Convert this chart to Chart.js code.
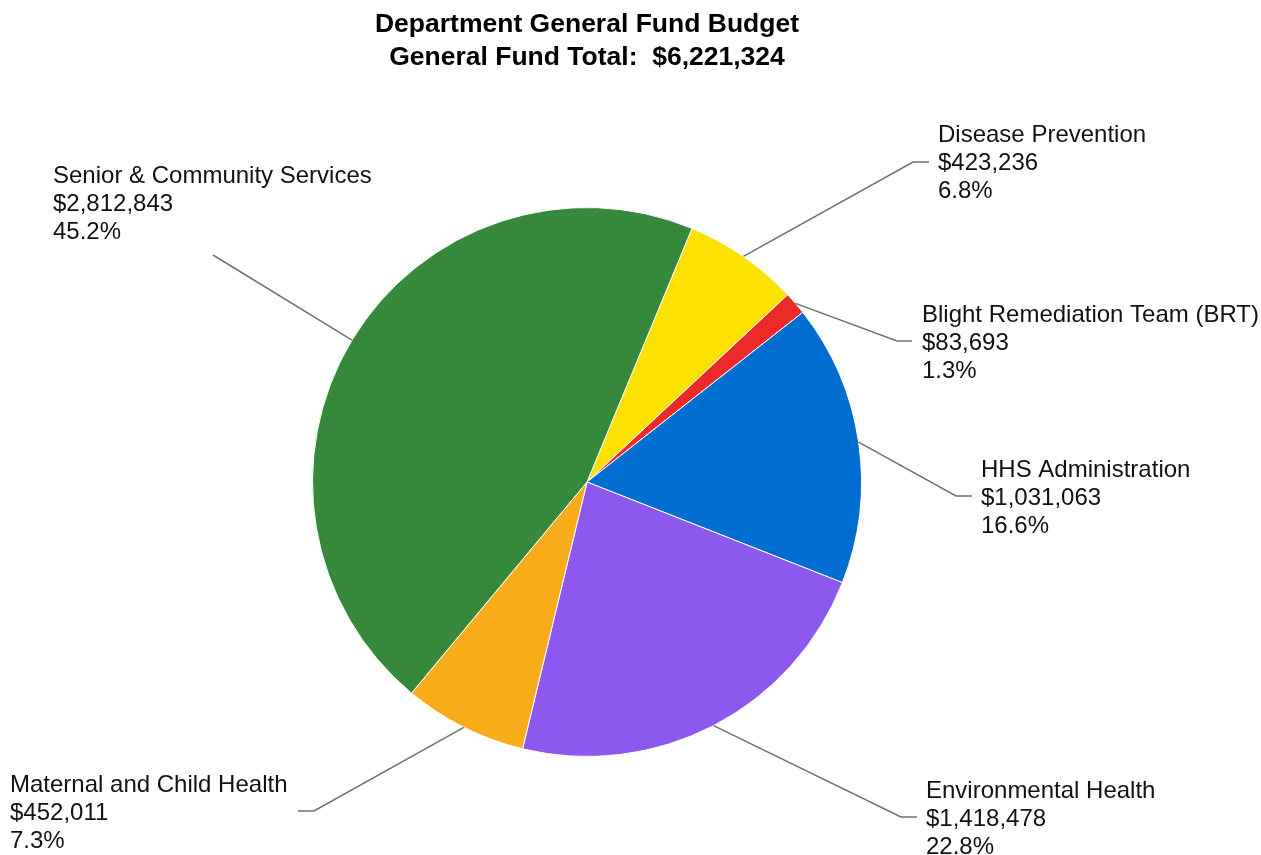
<!DOCTYPE html>
<html>
<head>
<meta charset="utf-8">
<script src="https://cdn.jsdelivr.net/npm/chart.js@4"></script>
<style>
html,body{margin:0;padding:0;background:#fff;}
#wrap{width:1261px;height:855px;position:relative;}
</style>
</head>
<body>
<div id="wrap"><canvas id="c" width="1261" height="855"></canvas></div>
<script>
// ---- data ----
const titleLines = ["Department General Fund Budget", "General Fund Total:  $6,221,324"];
const categories = ["Disease Prevention", "Blight Remediation Team (BRT)", "HHS Administration", "Environmental Health", "Maternal and Child Health", "Senior & Community Services"];
const values = [423236, 83693, 1031063, 1418478, 452011, 2812843];
const colors = ["#FDE100", "#EC2A2A", "#006DD1", "#8C58EE", "#F9AC1A", "#36893B"];

// label placement (offsets relative to pie centre): elbow point, hook length, text anchor (baseline of first line)
const labelLayout = [
  {elbow: [326, -320], hook: 16, text: [351, -340]},
  {elbow: [310, -141], hook: 15, text: [335, -160]},
  {elbow: [369, 14], hook: 16, text: [394, -5]},
  {elbow: [314, 335], hook: 16, text: [339, 316]},
  {elbow: [-273, 329], hook: -16, text: [-577, 310]},
  {elbow: [-374, -227], hook: 0, text: [-534, -299]}
];

const total = values.reduce((a, b) => a + b, 0);
const fmtMoney = v => "$" + v.toLocaleString("en-US");
const fmtPct = v => (v / total * 100).toFixed(1) + "%";

const labelPlugin = {
  id: "outerLabels",
  afterDatasetsDraw(chart) {
    const ctx = chart.ctx;
    const meta = chart.getDatasetMeta(0);
    const cx = meta.data[0].x, cy = meta.data[0].y;
    // title
    ctx.save();
    ctx.fillStyle = "#000";
    ctx.textAlign = "center";
    ctx.textBaseline = "alphabetic";
    ctx.font = "bold 26.5px 'Liberation Sans', Arial, sans-serif";
    ctx.fillText(titleLines[0], cx, 31.5);
    ctx.fillText(titleLines[1], cx, 65);
    ctx.restore();

    meta.data.forEach((arc, i) => {
      const lay = labelLayout[i];
      const mid = (arc.startAngle + arc.endAngle) / 2;
      const r = arc.outerRadius;
      const sx = arc.x + Math.cos(mid) * r;
      const sy = arc.y + Math.sin(mid) * r;
      const ex = cx + lay.elbow[0], ey = cy + lay.elbow[1];
      ctx.save();
      ctx.strokeStyle = "#707070";
      ctx.lineWidth = 1.5;
      ctx.beginPath();
      ctx.moveTo(sx, sy);
      ctx.lineTo(ex, ey);
      if (lay.hook !== 0) ctx.lineTo(ex + lay.hook, ey);
      ctx.stroke();
      ctx.fillStyle = "#111";
      ctx.textAlign = "left";
      ctx.textBaseline = "alphabetic";
      ctx.font = "24px 'Liberation Sans', Arial, sans-serif";
      const tx = cx + lay.text[0], ty = cy + lay.text[1];
      const lines = [categories[i], fmtMoney(values[i]), fmtPct(values[i])];
      lines.forEach((t, k) => ctx.fillText(t, tx, ty + k * 28));
      ctx.restore();
    });
  }
};

new Chart(document.getElementById("c"), {
  type: "pie",
  data: {
    labels: categories,
    datasets: [{
      data: values,
      backgroundColor: colors,
      borderColor: "#ffffff",
      borderWidth: 1
    }]
  },
  options: {
    responsive: false,
    animation: false,
    rotation: 22.5,
    layout: {padding: {left: 312, right: 399, top: 207, bottom: 98}},
    plugins: {
      legend: {display: false},
      tooltip: {enabled: false},
      title: {display: false}
    }
  },
  plugins: [labelPlugin]
});
</script>
</body>
</html>
